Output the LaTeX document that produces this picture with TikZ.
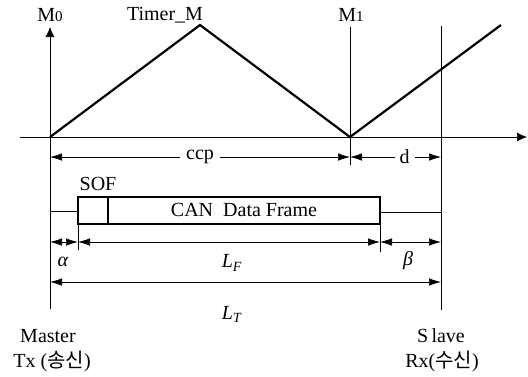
\documentclass[tikz,border=0pt]{standalone}
\usepackage{fontspec}
\setmainfont{Liberation Serif}
\newfontfamily\krfont{Noto Sans CJK KR}
\usetikzlibrary{arrows.meta}

\tikzset{
    lbl/.style={inner sep=1pt, font=\fontsize{20}{22}\selectfont},
    dim/.style={{Latex[length=12pt,width=7.5pt]}-{Latex[length=12pt,width=7.5pt]}, line width=0.7pt},
    axis/.style={-{Latex[length=10pt,width=9pt]}, line width=0.7pt},
    wave/.style={line width=2.2pt, line join=miter},
}
\newcommand{\digit}[1]{{\fontsize{15}{15}\selectfont #1}}

\begin{document}
\begin{tikzpicture}[x=1pt, y=-1pt]
    \useasboundingbox (0,0) rectangle (528,376);

    % Punts de referencia
    \coordinate (o) at (50,137);
    \coordinate (peak) at (200,25);
    \coordinate (m1) at (350,137);
    \coordinate (rise) at (501,25);
    \coordinate (axend) at (527,137);
    \coordinate (axstart) at (20,137);

    % Eixos i linies verticals
    \draw[axis] (axstart) -- (axend);
    \draw[axis] (50,309) -- (50,27);
    \draw[line width=0.7pt] (350,27) -- (350,165);
    \draw[line width=0.7pt] (441,26) -- (441,310);

    % Rampa del temporitzador
    \draw[wave] (o) -- (peak) -- (m1) -- (rise);

    \node[lbl] (m0lbl) at (50,15) {M\digit{0}};
    \node[lbl] (timer) at (165,15) {Timer\_M};
    \node[lbl] (m1lbl) at (351,15) {M\digit{1}};

    % Cotes ccp i d
    \draw[dim] (50,157) -- (350,157) node[lbl, midway, fill=white, inner xsep=6pt] (ccp) {ccp};
    \draw[dim] (350,157) -- (441,157) node[lbl, pos=0.6, fill=white, inner xsep=5pt] (d) {d};

    % Trama CAN
    \draw[line width=0.7pt] (50,211) -- (78,211);
    \draw[line width=0.7pt] (380,212) -- (441,212);
    \draw[line width=1.4pt] (78,197) rectangle (380,224);
    \draw[line width=1.4pt] (108,197) -- (108,224);
    \node[lbl] (sof) at (98,184) {SOF};
    \node[lbl] (frame) at (244,210) {CAN\ \ Data Frame};

    % Cotes alpha, L_F, beta
    \draw[line width=0.7pt] (78,224) -- (78,250);
    \draw[line width=0.7pt] (380,224) -- (380,252);
    \draw[dim] (50,242) -- (78,242);
    \draw[dim] (78,242) -- (380,242);
    \draw[dim] (380,242) -- (441,242);
    \node[lbl] (alpha) at (63,262) {\textit{α}};
    \node[lbl] (lf) at (232,263) {\textit{L}\textsubscript{\textit{F}}};
    \node[lbl] (beta) at (408,261) {\textit{β}};

    % Cota L_T
    \draw[dim] (50,282) -- (441,282);
    \node[lbl] (lt) at (232,314) {\textit{L}\textsubscript{\textit{T}}};

    % Nodes
    \node[lbl] (master) at (48,336) {Master};
    \node[lbl] (tx) at (52,361) {Tx ({\krfont 송신})};
    \node[lbl] (slave) at (441,336) {S\,lave};
    \node[lbl] (rx) at (442,361) {Rx({\krfont 수신})};
\end{tikzpicture}
\end{document}
